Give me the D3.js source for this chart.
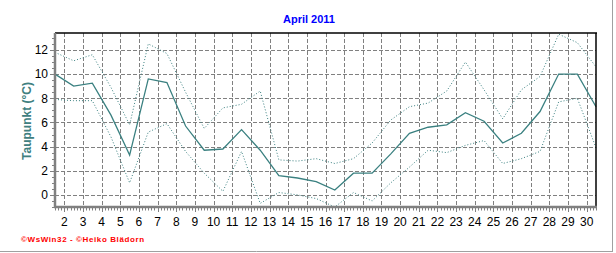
<!DOCTYPE html>
<html>
<head>
<meta charset="utf-8">
<script src="https://cdn.jsdelivr.net/npm/d3@7"></script>
<style>
  body { margin: 0; background: #fff; }
  svg { display: block; font-family: Arial, "Liberation Sans", sans-serif; }
</style>
</head>
<body>
<div id="chart"></div>
<script>
// Tageswerte April 2011 (Tag 1..30)
const days = d3.range(1, 31);
const mean = [10.0, 9.0, 9.25, 6.6, 3.3, 9.6, 9.3, 5.7, 3.7, 3.8,
              5.4, 3.7, 1.6, 1.4, 1.1, 0.4, 1.8, 1.8, 3.4, 5.1,
              5.6, 5.8, 6.8, 6.1, 4.3, 5.1, 6.9, 10.0, 10.0, 7.3];
const maxi = [11.8, 11.1, 11.6, 8.9, 5.8, 12.5, 11.7, 8.5, 5.5, 7.2,
              7.5, 8.6, 2.9, 2.8, 3.0, 2.6, 3.0, 4.3, 6.2, 7.3,
              7.6, 8.6, 11.0, 8.7, 6.3, 8.7, 9.8, 13.3, 12.6, 10.6];
const mini = [7.9, 7.8, 7.8, 4.8, 1.0, 5.2, 5.9, 3.6, 1.8, 0.3,
              3.6, -0.7, 0.2, 0.0, -0.3, -1.0, 0.2, -0.5, 1.0, 2.3,
              3.7, 3.5, 4.1, 4.5, 2.6, 3.0, 3.6, 7.7, 8.0, 3.9];
const xTicks = d3.range(2, 31);
const yTicks = [0, 2, 4, 6, 8, 10, 12];

const width = 616, height = 253;
const margin = { top: 33, right: 20, bottom: 46, left: 55 };
const lineColor = "#3a8080";

const svg = d3.select("#chart").append("svg")
  .attr("width", width)
  .attr("height", height);

// Skalen: Tageswert liegt in der Tagesmitte
const x = d3.scaleLinear().domain([1.5, 30.5]).range([margin.left, width - margin.right]);
const y = d3.scaleLinear().domain([-1, 13.4]).range([height - margin.bottom, margin.top]);

// Gitter
svg.append("g").selectAll("line").data(yTicks).enter().append("line")
  .attr("x1", x.range()[0]).attr("x2", x.range()[1])
  .attr("y1", d => Math.round(y(d)) + 0.5).attr("y2", d => Math.round(y(d)) + 0.5)
  .attr("stroke", "#808080").attr("stroke-dasharray", "4,2");

svg.append("g").selectAll("line").data(xTicks).enter().append("line")
  .attr("x1", d => Math.round(x(d)) + 0.5).attr("x2", d => Math.round(x(d)) + 0.5)
  .attr("y1", y.range()[1]).attr("y2", y.range()[0])
  .attr("stroke", "#808080").attr("stroke-dasharray", "4,2");

// Linien
const line = d3.line().x((d, i) => x(days[i] + 0.5)).y(d => y(d));

svg.append("path").datum(maxi)
  .attr("d", line).attr("fill", "none")
  .attr("stroke", lineColor).attr("stroke-width", 1)
  .attr("stroke-dasharray", "1,2");

svg.append("path").datum(mini)
  .attr("d", line).attr("fill", "none")
  .attr("stroke", lineColor).attr("stroke-width", 1)
  .attr("stroke-dasharray", "1,2");

svg.append("path").datum(mean)
  .attr("d", line).attr("fill", "none")
  .attr("stroke", lineColor).attr("stroke-width", 1.3);

// Rahmen oben / rechts
svg.append("line")
  .attr("x1", x.range()[0]).attr("x2", x.range()[1] + 1)
  .attr("y1", y.range()[1]).attr("y2", y.range()[1])
  .attr("stroke", "#000").attr("stroke-width", 1.5);
svg.append("line")
  .attr("x1", x.range()[1]).attr("x2", x.range()[1])
  .attr("y1", y.range()[1]).attr("y2", y.range()[0])
  .attr("stroke", "#000").attr("stroke-width", 1.5);

// Y-Achse
const yAxis = svg.append("g");
yAxis.selectAll("line.minor").data(d3.range(-1, 13.5, 0.5)).enter().append("line")
  .attr("x1", d => yTicks.includes(d) ? margin.left - 5 : margin.left - 3)
  .attr("x2", margin.left)
  .attr("y1", d => Math.round(y(d)) + 0.5).attr("y2", d => Math.round(y(d)) + 0.5)
  .attr("stroke", "#808080");
yAxis.selectAll("text").data(yTicks).enter().append("text")
  .attr("x", 48).attr("y", d => y(d)).attr("dy", "0.36em")
  .attr("text-anchor", "end").attr("font-size", "12px").attr("fill", "#000")
  .text(d => d);
yAxis.append("line")
  .attr("x1", margin.left).attr("x2", margin.left)
  .attr("y1", y.range()[1]).attr("y2", y.range()[0] + 1)
  .attr("stroke", "#808080").attr("stroke-width", 2.5);

// X-Achse
const xAxis = svg.append("g");
xAxis.selectAll("line").data(d3.range(1.5, 30.51, 1 / 6)).enter().append("line")
  .attr("x1", d => Math.round(x(d)) + 0.5).attr("x2", d => Math.round(x(d)) + 0.5)
  .attr("y1", y.range()[0])
  .attr("y2", d => Math.abs(d - Math.round(d)) < 0.01 ? y.range()[0] + 5 : y.range()[0] + 3.5)
  .attr("stroke", "#808080");
xAxis.selectAll("text").data(xTicks).enter().append("text")
  .attr("x", d => x(d)).attr("y", 226)
  .attr("text-anchor", "middle").attr("font-size", "12px").attr("fill", "#000")
  .text(d => d);
xAxis.append("line")
  .attr("x1", margin.left - 1).attr("x2", x.range()[1] + 1)
  .attr("y1", y.range()[0]).attr("y2", y.range()[0])
  .attr("stroke", "#808080").attr("stroke-width", 2.5);

// Titel und Beschriftungen
svg.append("text")
  .attr("x", 309).attr("y", 23)
  .attr("text-anchor", "middle").attr("font-size", "11px").attr("font-weight", "bold")
  .attr("fill", "#0000ff")
  .text("April 2011");

svg.append("text")
  .attr("transform", "translate(31,121) rotate(-90)")
  .attr("text-anchor", "middle").attr("font-size", "12px").attr("font-weight", "bold")
  .attr("fill", "#408080")
  .text("Taupunkt  (°C)");

svg.append("text")
  .attr("x", 21).attr("y", 242)
  .attr("font-size", "8px").attr("font-weight", "bold")
  .attr("letter-spacing", "0.6px")
  .attr("fill", "#ff0000")
  .text("©WsWin32 - ©Heiko Blädorn");

// äußerer Rahmen
svg.append("line").attr("x1", 612.5).attr("x2", 612.5).attr("y1", 0).attr("y2", 252)
  .attr("stroke", "#a0a0a0");
svg.append("line").attr("x1", 0).attr("x2", 613).attr("y1", 251.5).attr("y2", 251.5)
  .attr("stroke", "#a0a0a0");
</script>
</body>
</html>
